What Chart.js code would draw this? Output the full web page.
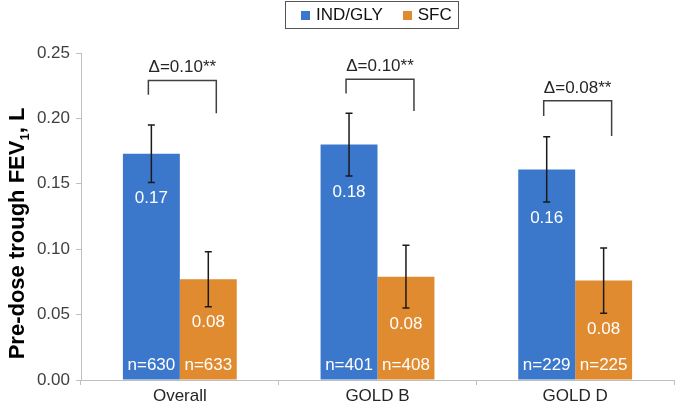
<!DOCTYPE html>
<html>
<head>
<meta charset="utf-8">
<script src="https://cdn.jsdelivr.net/npm/chart.js@4"></script>
<style>
  html, body { margin: 0; padding: 0; background: #fff; }
  #wrap { position: relative; width: 675px; height: 405px; }
  #legenda {
    position: absolute; left: 285px; top: 1px; width: 174px; height: 28px;
    border: 1px solid #555; box-sizing: border-box;
    font: 17px "Liberation Sans", Arial, sans-serif; color: #111;
    display: flex; align-items: center; padding-left: 15px;
  }
  #legenda span.box { display: inline-block; width: 9px; height: 9px; margin-right: 6px; }
  #legenda span.item { display: inline-flex; align-items: center; margin-right: 20px; }
</style>
</head>
<body>
<div id="wrap">
  <canvas id="grafico" width="675" height="405"></canvas>
  <div id="legenda"></div>
</div>
<script>
const categorias = ["Overall", "GOLD B", "GOLD D"];
const series = ["IND/GLY", "SFC"];
const indgly = [0.173, 0.180, 0.161];
const sfc = [0.077, 0.079, 0.076];
const indglyErro = [0.022, 0.024, 0.025];
const sfcErro = [0.021, 0.024, 0.025];
const indglyRotulos = ["0.17", "0.18", "0.16"];
const sfcRotulos = ["0.08", "0.08", "0.08"];
const indglyN = ["n=630", "n=401", "n=229"];
const sfcN = ["n=633", "n=408", "n=225"];
const deltas = ["\u0394=0.10**", "\u0394=0.10**", "\u0394=0.08**"];
const chaveTopo = [0.229, 0.230, 0.2135];
const chavePernaEsq = [0.218, 0.219, 0.2018];
const chavePernaDir = [0.204, 0.2057, 0.1865];
const yTicks = [0, 0.05, 0.10, 0.15, 0.20, 0.25];

const cores = ["#3B78CB", "#E08B30"];
const fonte = '"Liberation Sans", Arial, sans-serif';

// legenda em html
const legenda = document.getElementById("legenda");
series.forEach((s, i) => {
  const item = document.createElement("span");
  item.className = "item";
  item.innerHTML = `<span class="box" style="background:${cores[i]}"></span>${s}`;
  legenda.appendChild(item);
});

const extras = {
  id: "extras",
  afterDatasetsDraw(chart) {
    const ctx = chart.ctx;
    const y = chart.scales.y;
    const erros = [indglyErro, sfcErro];
    const valores = [indgly, sfc];
    const rotulos = [indglyRotulos, sfcRotulos];
    const ns = [indglyN, sfcN];
    ctx.save();
    // barras de erro e rotulos
    [0, 1].forEach(d => {
      const meta = chart.getDatasetMeta(d);
      meta.data.forEach((bar, i) => {
        const v = valores[d][i], e = erros[d][i];
        const yTop = y.getPixelForValue(v + e), yBot = y.getPixelForValue(v - e);
        ctx.strokeStyle = "#1a1a1a";
        ctx.lineWidth = 1.5;
        ctx.beginPath();
        ctx.moveTo(bar.x, yTop); ctx.lineTo(bar.x, yBot);
        ctx.moveTo(bar.x - 3.5, yTop); ctx.lineTo(bar.x + 3.5, yTop);
        ctx.moveTo(bar.x - 3.5, yBot); ctx.lineTo(bar.x + 3.5, yBot);
        ctx.stroke();
        ctx.fillStyle = "#fff";
        ctx.font = "17px " + fonte;
        ctx.textAlign = "center";
        ctx.textBaseline = "middle";
        ctx.fillText(rotulos[d][i], bar.x, yBot + 16);
        ctx.fillText(ns[d][i], bar.x, y.getPixelForValue(0) - 15);
      });
    });
    // chaves com delta
    const m0 = chart.getDatasetMeta(0), m1 = chart.getDatasetMeta(1);
    categorias.forEach((c, i) => {
      const xe = m0.data[i].x - 3, xd = m1.data[i].x + 8;
      const yt = y.getPixelForValue(chaveTopo[i]);
      ctx.strokeStyle = "#404040";
      ctx.lineWidth = 1.5;
      ctx.beginPath();
      ctx.moveTo(xe, y.getPixelForValue(chavePernaEsq[i]));
      ctx.lineTo(xe, yt);
      ctx.lineTo(xd, yt);
      ctx.lineTo(xd, y.getPixelForValue(chavePernaDir[i]));
      ctx.stroke();
      ctx.fillStyle = "#262626";
      ctx.font = "17px " + fonte;
      ctx.textAlign = "center";
      ctx.textBaseline = "alphabetic";
      ctx.fillText(deltas[i], (xe + xd) / 2, yt - 8);
    });
    // titulo do eixo y com subscrito
    const cy = (chart.chartArea.top + chart.chartArea.bottom) / 2 + 17;
    ctx.translate(24, cy);
    ctx.rotate(-Math.PI / 2);
    ctx.fillStyle = "#000";
    ctx.textBaseline = "alphabetic";
    ctx.textAlign = "left";
    const p1 = "Pre-dose trough FEV", p2 = "1", p3 = ", L";
    ctx.font = "bold 22px " + fonte;
    const w1 = ctx.measureText(p1).width, w3 = ctx.measureText(p3).width;
    ctx.font = "bold 13px " + fonte;
    const w2 = ctx.measureText(p2).width;
    let x0 = -(w1 + w2 + w3) / 2;
    ctx.font = "bold 22px " + fonte;
    ctx.fillText(p1, x0, 0);
    ctx.font = "bold 13px " + fonte;
    ctx.fillText(p2, x0 + w1, 5);
    ctx.font = "bold 22px " + fonte;
    ctx.fillText(p3, x0 + w1 + w2, 0);
    ctx.restore();
  }
};

new Chart(document.getElementById("grafico").getContext("2d"), {
  type: "bar",
  data: {
    labels: categorias,
    datasets: [
      { label: series[0], data: indgly, backgroundColor: cores[0] },
      { label: series[1], data: sfc, backgroundColor: cores[1] }
    ]
  },
  options: {
    responsive: false,
    animation: false,
    layout: { padding: { top: 53, right: 1, left: 0, bottom: 0 } },
    datasets: { bar: { categoryPercentage: 0.576, barPercentage: 1 } },
    plugins: { legend: { display: false }, tooltip: { enabled: false } },
    scales: {
      x: {
        afterFit: s => { s.height = 25; },
        grid: { offset: true, drawOnChartArea: false, tickLength: 5, color: "#bfbfbf" },
        border: { color: "#bfbfbf", width: 1 },
        ticks: { color: "#262626", font: { family: fonte, size: 17 }, padding: 1 }
      },
      y: {
        min: 0, max: 0.25,
        afterFit: s => { s.width = 81; },
        afterBuildTicks: s => { s.ticks = yTicks.map(v => ({ value: v })); },
        grid: { drawOnChartArea: false, tickLength: 5, color: "#bfbfbf" },
        border: { color: "#bfbfbf", width: 1 },
        ticks: { color: "#404040", font: { family: fonte, size: 17 }, padding: 6, callback: v => v.toFixed(2) }
      }
    }
  },
  plugins: [extras]
});
</script>
</body>
</html>
